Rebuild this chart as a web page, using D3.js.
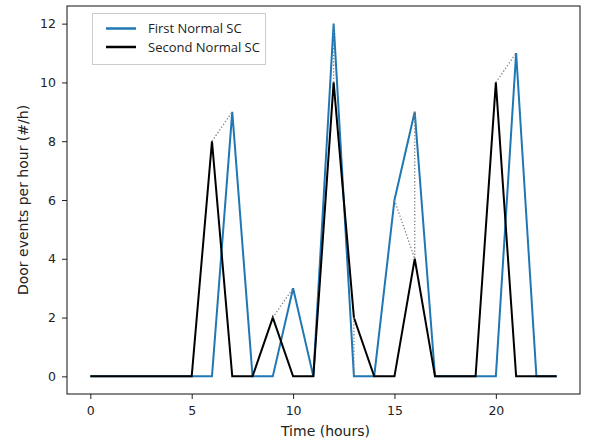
<!DOCTYPE html>
<html lang="en">
<head>
<meta charset="utf-8">
<style>
  body { margin: 0; background: #fff; }
  svg { display: block; }
  .tick text { font-family: "DejaVu Sans", sans-serif; font-size: 12.5px; fill: #222; }
  .lbl { font-family: "DejaVu Sans", sans-serif; font-size: 14px; fill: #222; }
  .leg { font-family: "Open Sans", sans-serif; font-size: 13px; fill: #222; }
</style>
</head>
<body>
<svg width="590" height="442"></svg>
<script src="https://cdn.jsdelivr.net/npm/d3@7"></script>
<script>
var hours = d3.range(0, 24)
var firstSC  = [0,0,0,0,0,0,0,9,0,0,3,0,12,0,0,6,9,0,0,0,0,11,0,0]
var secondSC = [0,0,0,0,0,0,8,0,0,2,0,0,10,2,0,0,4,0,0,0,10,0,0,0]
// dotted connectors [[x1,y1],[x2,y2]]
var links = [
  [[6,8],[7,9]], [[9,2],[10,3]], [[12,10],[12,12]], [[13,2],[13,0]],
  [[15,6],[16,4]], [[16,9],[16,4]], [[20,10],[21,11]]
]
var xTicks = [0,5,10,15,20]
var yTicks = [0,2,4,6,8,10,12]

var svg = d3.select('svg')
var pLeft = 67, pRight = 580, pTop = 6, pBottom = 394

var x = d3.scaleLinear().domain([-1.15, 24.15]).range([pLeft, pRight])
var y = d3.scaleLinear().domain([-0.6, 12.6]).range([pBottom, pTop])

var line = d3.line()
  .x(function (d) { return x(d[0]) })
  .y(function (d) { return y(d[1]) })

var g = svg.append('g')

g.append('path')
  .datum(hours.map(function (h, i) { return [h, firstSC[i]] }))
  .attr('d', line)
  .attr('fill', 'none')
  .attr('stroke', '#1f77b4')
  .attr('stroke-width', 2)

g.append('path')
  .datum(hours.map(function (h, i) { return [h, secondSC[i]] }))
  .attr('d', line)
  .attr('fill', 'none')
  .attr('stroke', '#000')
  .attr('stroke-width', 2)

g.selectAll('.lnk')
  .data(links)
  .enter().append('path')
  .attr('class', 'lnk')
  .attr('d', line)
  .attr('fill', 'none')
  .attr('stroke', '#808080')
  .attr('stroke-width', 1.3)
  .attr('stroke-dasharray', '1.3,2')

// axes
var xAxis = svg.append('g')
  .attr('transform', 'translate(0,' + pBottom + ')')
  .call(d3.axisBottom(x).tickValues(xTicks).tickSize(5).tickPadding(7))
xAxis.select('.domain').remove()

var yAxis = svg.append('g')
  .attr('transform', 'translate(' + pLeft + ',0)')
  .call(d3.axisLeft(y).tickValues(yTicks).tickSize(5).tickPadding(6))
yAxis.select('.domain').remove()

svg.selectAll('.tick line').attr('stroke', '#222')

svg.append('rect')
  .attr('x', pLeft).attr('y', pTop)
  .attr('width', pRight - pLeft).attr('height', pBottom - pTop)
  .attr('fill', 'none').attr('stroke', '#111').attr('stroke-width', 1)

svg.append('text')
  .attr('class', 'lbl')
  .attr('x', (pLeft + pRight) / 2 + 2).attr('y', 436)
  .attr('text-anchor', 'middle')
  .text('Time (hours)')

svg.append('text')
  .attr('class', 'lbl')
  .attr('transform', 'translate(28,' + (pTop + pBottom) / 2 + ') rotate(-90)')
  .attr('text-anchor', 'middle')
  .text('Door events per hour (#/h)')

// legend
var legend = svg.append('g')
legend.append('rect')
  .attr('x', 92.5).attr('y', 13.5).attr('width', 173).attr('height', 51)
  .attr('fill', '#fff').attr('stroke', '#ccc').attr('stroke-width', 1)

var legItems = [['First Normal SC', '#1f77b4'], ['Second Normal SC', '#000']]
var li = legend.selectAll('.li').data(legItems).enter().append('g')
  .attr('transform', function (d, i) { return 'translate(0,' + (i * 18.5) + ')' })
li.append('line')
  .attr('x1', 106).attr('x2', 136).attr('y1', 28.5).attr('y2', 28.5)
  .attr('stroke', function (d) { return d[1] }).attr('stroke-width', 2.5)
li.append('text')
  .attr('class', 'leg')
  .attr('x', 148).attr('y', 33)
  .text(function (d) { return d[0] })
</script>
</body>
</html>
